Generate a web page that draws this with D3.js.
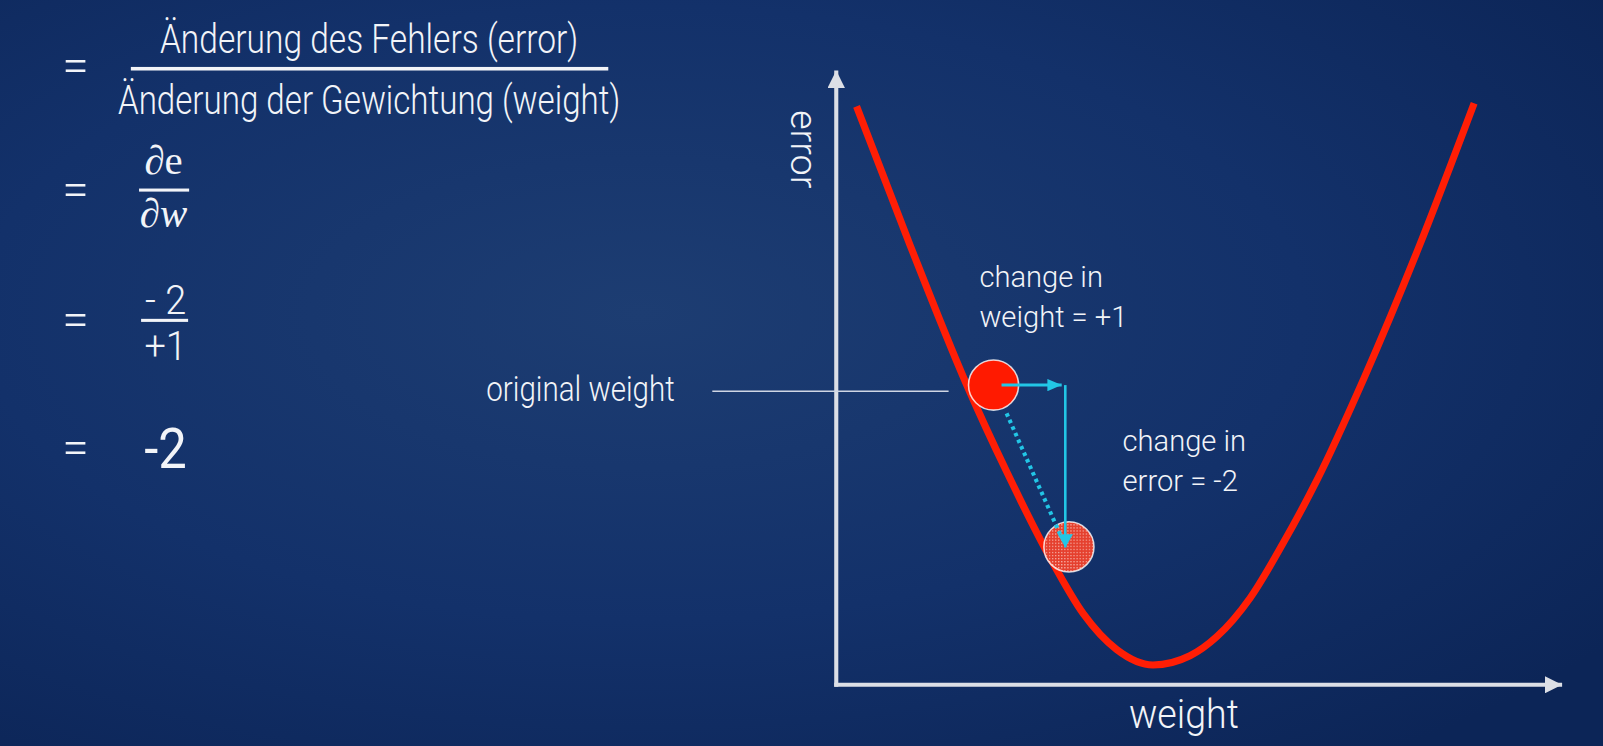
<!DOCTYPE html>
<html>
<head>
<meta charset="utf-8">
<script src="https://cdn.jsdelivr.net/npm/d3@7"></script>
<style>
    html, body { margin: 0; padding: 0; overflow: hidden; background: #12306a; }
    svg { display: block; }
</style>
</head>
<body>
<svg id="chart"></svg>
<script>
// error curve (weight / error in plot units 0..10)
const weightVals = [0.28, 1.02, 1.79, 2.36, 2.96, 3.41, 3.87, 4.37, 4.88, 5.25, 5.71, 6.16, 6.63, 7.28, 8.03, 8.80];
const errorVals  = [9.40, 7.14, 4.90, 3.44, 2.04, 1.15, 0.57, 0.32, 0.47, 0.78, 1.41, 2.29, 3.32, 4.98, 7.09, 9.45];

// the ball before and after the step
const ballWeights = [2.17, 3.21];
const ballErrors  = [4.87, 2.24];

// step: weight +1 then error -2
const stepWeights = [2.28, 3.11, 3.16];
const stepErrors  = [4.87, 2.23];
const slideWeights = [2.35, 3.09];
const slideErrors  = [4.41, 2.44];

// guide to the "original weight" label
const guideWeights = [-1.71, 1.55];
const guideError = 4.77;

const formulaEq = ['=', '=', '=', '='];
const numerators = ['Änderung des Fehlers (error)', '- 2'];
const denominators = ['Änderung der Gewichtung (weight)', '+1'];
const result = '-2';

// drawn in a 1568x730 frame, stretched to the window
const W = 1568, H = 730;
const svg = d3.select('#chart')
    .attr('width', 1603).attr('height', 746)
    .attr('viewBox', `0 0 ${W} ${H}`)
    .attr('preserveAspectRatio', 'none');

const defs = svg.append('defs');
const bg = defs.append('radialGradient').attr('id', 'bg')
    .attr('cx', '40%').attr('cy', '42%').attr('r', '75%');
bg.append('stop').attr('offset', '0%').attr('stop-color', '#1d3d72');
bg.append('stop').attr('offset', '55%').attr('stop-color', '#13316a');
bg.append('stop').attr('offset', '100%').attr('stop-color', '#0c2557');

// halftone fill for the moved ball
const pat = defs.append('pattern').attr('id', 'dots')
    .attr('width', 3).attr('height', 3).attr('patternUnits', 'userSpaceOnUse');
pat.append('rect').attr('width', 3).attr('height', 3).attr('fill', '#e5402e');
pat.append('rect').attr('width', 1.2).attr('height', 1.2).attr('fill', '#f6b2a8');

const axisCol = '#dcdfe6';
const cyan = '#22c6e6';
const ink = '#f2f4f8';

function arrowMarker(id, col, w, h) {
    defs.append('marker').attr('id', id)
        .attr('viewBox', `0 0 ${w} ${h}`)
        .attr('refX', w).attr('refY', h / 2)
        .attr('markerWidth', w).attr('markerHeight', h)
        .attr('markerUnits', 'userSpaceOnUse')
        .attr('orient', 'auto')
        .append('path').attr('d', `M0,0L${w},${h / 2}L0,${h}Z`).attr('fill', col);
}
arrowMarker('axisHead', axisCol, 17, 17);
arrowMarker('cyanHead', cyan, 14, 12);
arrowMarker('cyanDown', cyan, 13, 15);

svg.append('rect').attr('width', W).attr('height', H).attr('fill', 'url(#bg)');

const x = d3.scaleLinear().domain([0, 10]).range([818, 1527]);
const y = d3.scaleLinear().domain([0, 10]).range([670, 68]);

// axes without ticks, only the domain line
const gx = svg.append('g').attr('transform', `translate(0,${y(0)})`)
    .call(d3.axisBottom(x).ticks(0).tickSizeOuter(0));
const gy = svg.append('g').attr('transform', `translate(${x(0)},0)`)
    .call(d3.axisLeft(y).ticks(0).tickSizeOuter(0));
[gx, gy].forEach(g => {
    g.select('.domain').attr('stroke', axisCol).attr('stroke-width', 4)
        .attr('marker-end', 'url(#axisHead)');
});
// the domain paths run the wrong way for the heads, redraw them origin -> end
gy.select('.domain').attr('d', `M0,${y(0) + 2}V${y(10) + 1}`);
gx.select('.domain').attr('d', `M${x(0) - 2},0H${x(10) + 1}`);

function condText(px, py, str, size, anchor, opts = {}) {
    const g = svg.append('g')
        .attr('transform', `translate(${px},${py}) rotate(${opts.rot || 0}) scale(${opts.sx || 0.8},1)`);
    return g.append('text')
        .attr('text-anchor', anchor)
        .attr('font-family', 'Roboto')
        .attr('font-weight', opts.weight || 300)
        .attr('font-size', size)
        .attr('fill', opts.fill || ink)
        .text(str);
}

condText(1158, 712, 'weight', 40, 'middle', { sx: 0.92 });
condText(774, 146, 'error', 37, 'middle', { rot: 90, sx: 1.0 });

// guide line and label
svg.append('line')
    .attr('x1', x(guideWeights[0])).attr('x2', x(guideWeights[1]))
    .attr('y1', y(guideError)).attr('y2', y(guideError))
    .attr('stroke', '#cfd6e4').attr('stroke-width', 1.3);
condText(660, 392, 'original weight', 34, 'end', { sx: 0.85 });

// error curve
const line = d3.line().x(d => x(d[0])).y(d => y(d[1])).curve(d3.curveMonotoneX);
svg.append('path')
    .datum(d3.zip(weightVals, errorVals))
    .attr('d', line)
    .attr('fill', 'none')
    .attr('stroke', '#ff1e05')
    .attr('stroke-width', 7);

// balls
svg.selectAll('circle.ball')
    .data(d3.zip(ballWeights, ballErrors))
    .join('circle')
    .attr('class', 'ball')
    .attr('cx', d => x(d[0])).attr('cy', d => y(d[1]))
    .attr('r', 24.5)
    .attr('fill', (d, i) => i === 0 ? '#ff1a00' : 'url(#dots)')
    .attr('stroke', 'rgba(255,255,255,0.8)')
    .attr('stroke-width', 1.5);

// step arrows
svg.append('line')
    .attr('x1', x(stepWeights[0])).attr('x2', x(stepWeights[1]))
    .attr('y1', y(stepErrors[0])).attr('y2', y(stepErrors[0]))
    .attr('stroke', cyan).attr('stroke-width', 3)
    .attr('marker-end', 'url(#cyanHead)');
svg.append('line')
    .attr('x1', x(stepWeights[2])).attr('x2', x(stepWeights[2]))
    .attr('y1', y(stepErrors[0])).attr('y2', y(stepErrors[1]))
    .attr('stroke', cyan).attr('stroke-width', 2.5)
    .attr('marker-end', 'url(#cyanDown)');
svg.append('line')
    .attr('x1', x(slideWeights[0])).attr('x2', x(slideWeights[1]))
    .attr('y1', y(slideErrors[0])).attr('y2', y(slideErrors[1]))
    .attr('stroke', cyan).attr('stroke-width', 4)
    .attr('stroke-dasharray', '3.5,3.5');

// labels at the step
function plainText(px, py, str, size) {
    return svg.append('text')
        .attr('x', px).attr('y', py)
        .attr('font-family', 'Roboto').attr('font-weight', 300)
        .attr('font-size', size).attr('fill', ink)
        .text(str);
}
plainText(958, 281, 'change in', 28.5);
plainText(958, 320, 'weight = +1', 28.5);
plainText(1098, 441, 'change in', 28.5);
plainText(1098, 480, 'error = -2', 28.5);

// formula on the left
const eqY = [66, 188, 315, 440];
eqY.forEach((ey, i) => {
    svg.append('text').attr('x', 74).attr('y', ey + 14)
        .attr('text-anchor', 'middle')
        .attr('font-family', 'Roboto').attr('font-weight', 300)
        .attr('font-size', 47).attr('fill', ink)
        .text(formulaEq[i]);
});

condText(361, 52, numerators[0], 40, 'middle', { sx: 0.82 });
svg.append('rect').attr('x', 128).attr('y', 65.5).attr('width', 467).attr('height', 3.5).attr('fill', ink);
condText(361, 112, denominators[0], 40, 'middle', { sx: 0.81 });

// partial derivative
const de = svg.append('text').attr('x', 160).attr('y', 170).attr('text-anchor', 'middle')
    .attr('font-family', 'Liberation Serif').attr('font-size', 40).attr('fill', ink);
de.append('tspan').attr('font-style', 'italic').text('∂');
de.append('tspan').text('e');
svg.append('rect').attr('x', 136).attr('y', 184.5).attr('width', 49).attr('height', 3).attr('fill', ink);
svg.append('text').attr('x', 160).attr('y', 222).attr('text-anchor', 'middle')
    .attr('font-family', 'Liberation Serif').attr('font-style', 'italic')
    .attr('font-size', 40).attr('fill', ink)
    .text('∂w');

condText(162, 307, numerators[1], 39, 'middle', { sx: 0.95 });
svg.append('rect').attr('x', 138).attr('y', 312).attr('width', 46).attr('height', 3).attr('fill', ink);
condText(162, 352, denominators[1], 39, 'middle', { sx: 0.95 });

condText(162, 458, result, 54, 'middle', { weight: 400, sx: 0.92 });
</script>
</body>
</html>
